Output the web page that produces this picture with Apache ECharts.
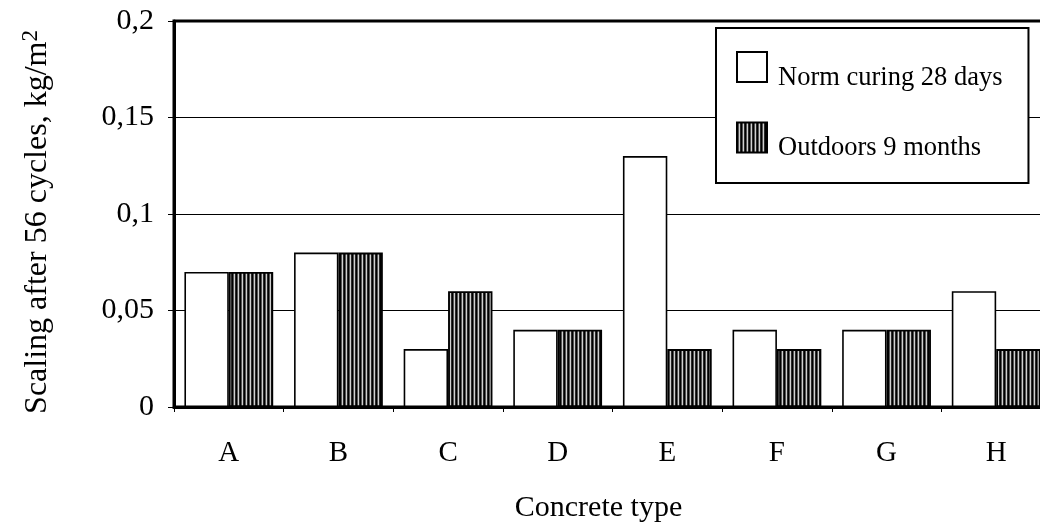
<!DOCTYPE html>
<html>
<head>
<meta charset="utf-8">
<script src="https://cdn.jsdelivr.net/npm/echarts@6/dist/echarts.min.js"></script>
<style>
  html, body { margin: 0; padding: 0; background: #fff; }
  #chart { width: 1040px; height: 525px; }
</style>
</head>
<body>
<div id="chart"></div>
<script>
// Scaling after 56 freeze-thaw cycles per concrete type
const categories = ['A', 'B', 'C', 'D', 'E', 'F', 'G', 'H'];
const normCuring = [0.07, 0.08, 0.03, 0.04, 0.13, 0.04, 0.04, 0.06];
const outdoors = [0.07, 0.08, 0.06, 0.04, 0.03, 0.03, 0.04, 0.03];
const yTicks = ['0', '0,05', '0,1', '0,15', '0,2'];

// Striped dark fill used for the outdoor series
function stripePattern() {
  const c = document.createElement('canvas');
  c.width = 4; c.height = 4;
  const ctx = c.getContext('2d');
  const cols = ['#000', '#555', '#d0d0d0', '#2a2a2a'];
  cols.forEach((col, i) => { ctx.fillStyle = col; ctx.fillRect(i, 0, 1, 4); });
  return c;
}

const serif = '"Liberation Serif", "DejaVu Serif", serif';
const chart = echarts.init(document.getElementById('chart'), null, { renderer: 'canvas' });

chart.setOption({
  backgroundColor: '#fff',
  animation: false,
  textStyle: { fontFamily: serif, color: '#000' },
  grid: {
    left: 174, top: 21, width: 877, height: 386,
    outerBoundsMode: 'none',
    show: true, borderColor: '#000', borderWidth: 3, backgroundColor: 'transparent'
  },
  legend: {
    orient: 'vertical',
    left: 716, top: 28,
    padding: [12, 26, 21, 20],
    itemWidth: 30, itemHeight: 30, itemGap: 19,
    icon: 'rect',
    backgroundColor: '#fff',
    borderColor: '#000', borderWidth: 2,
    // text sits a little below the swatch
    formatter: name => '{g|}\n{n|' + name + '}',
    textStyle: {
      fontFamily: serif, fontSize: 26.5, color: '#000', padding: [0, 0, 0, 6],
      rich: {
        g: { height: 22, lineHeight: 22 },
        n: { fontFamily: serif, fontSize: 26.5, color: '#000' }
      }
    },
    data: ['Norm curing 28 days', 'Outdoors 9 months']
  },
  xAxis: {
    type: 'category',
    data: categories,
    name: 'Concrete type',
    nameLocation: 'middle',
    nameGap: 86,
    nameTextStyle: { fontFamily: serif, fontSize: 30, color: '#000', padding: [0, 28, 0, 0] },
    axisLine: { lineStyle: { color: '#000', width: 3 } },
    axisTick: { show: true, length: 5, lineStyle: { color: '#000', width: 1 } },
    axisLabel: { fontFamily: serif, fontSize: 29, color: '#000', margin: 32 }
  },
  yAxis: {
    type: 'value',
    min: 0, max: 0.2, interval: 0.05,
    name: '{t|Scaling after 56 cycles, kg/m}{s|2}',
    nameLocation: 'middle',
    nameGap: 118,
    nameRotate: 90,
    nameTextStyle: {
      padding: [0, 16, 0, 0],
      rich: {
        t: { fontFamily: serif, fontSize: 32, color: '#000' },
        s: { fontFamily: serif, fontSize: 23, color: '#000', verticalAlign: 'top', padding: [0, 0, 14, 0] }
      }
    },
    axisLine: { show: true, lineStyle: { color: '#000', width: 3 } },
    axisTick: { show: true, length: 6, lineStyle: { color: '#000', width: 1 } },
    axisLabel: {
      fontFamily: serif, fontSize: 30, color: '#000', margin: 20,
      formatter: v => yTicks[Math.round(v / 0.05)]
    },
    splitLine: { show: true, lineStyle: { color: '#000', width: 1.2 } }
  },
  series: [
    {
      name: 'Norm curing 28 days',
      type: 'bar',
      data: normCuring,
      barGap: '0%',
      barCategoryGap: '19%',
      itemStyle: { color: '#fff', borderColor: '#000', borderWidth: 1.6 }
    },
    {
      name: 'Outdoors 9 months',
      type: 'bar',
      data: outdoors,
      itemStyle: {
        color: { image: stripePattern(), repeat: 'repeat' },
        borderColor: '#000', borderWidth: 1.8
      }
    }
  ]
});
</script>
</body>
</html>
